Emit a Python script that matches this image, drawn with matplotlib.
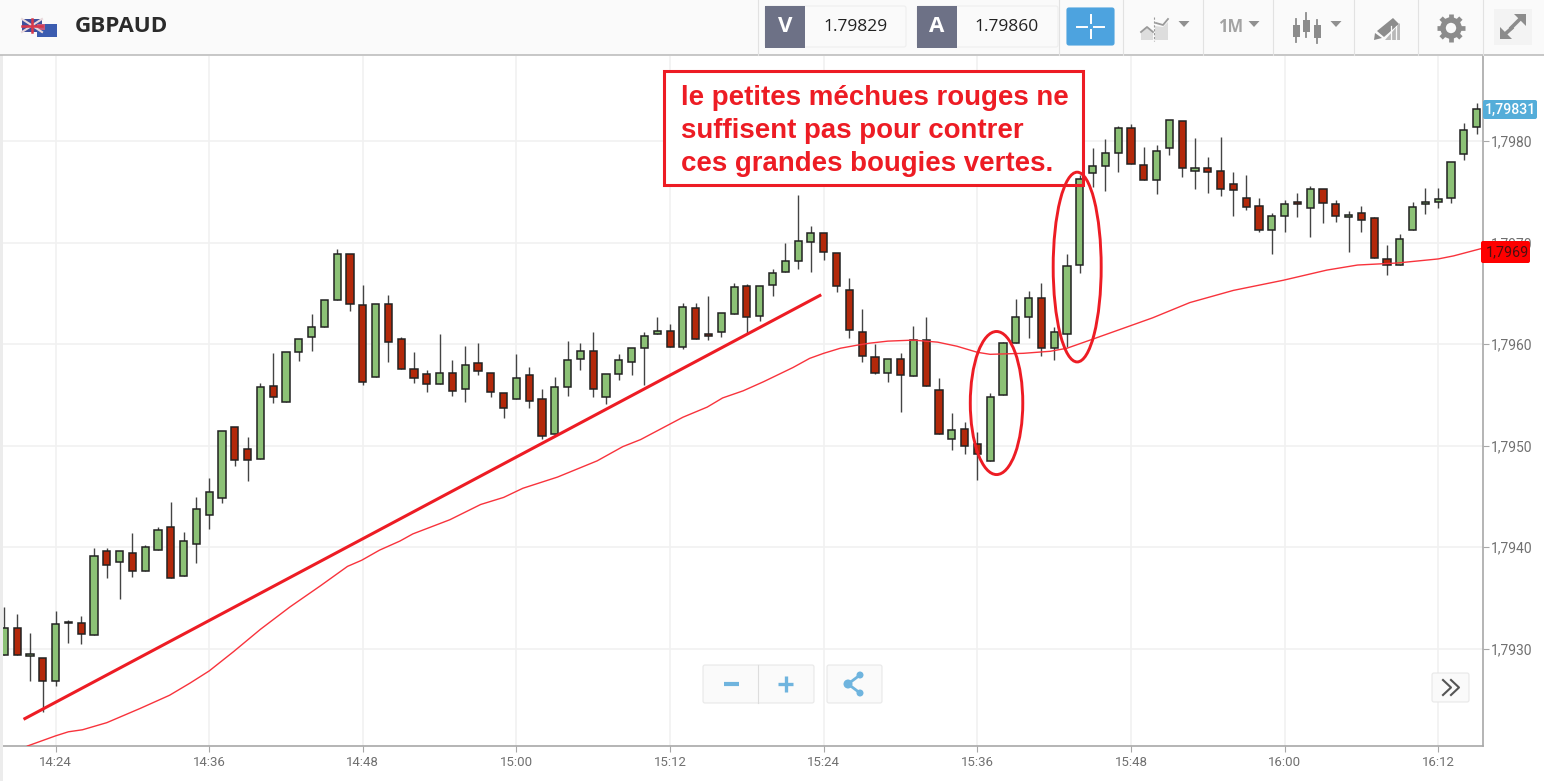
import numpy as np
import matplotlib
matplotlib.use("Agg")
import matplotlib.pyplot as plt
from matplotlib.patches import Ellipse, FancyBboxPatch, Polygon, Rectangle, Circle

# candles, one per minute from 14:20, prices given as 1.79 + value / 100000
opens = [294, 320, 293, 291, 268, 325, 325, 313, 396, 385, 394, 376, 397, 420, 372, 403, 432, 448, 518, 497,
         487, 559, 543, 592, 607, 617, 644, 689, 639, 568, 640, 605, 576, 571, 561, 572, 556, 581, 572, 552,
         546, 570, 546, 511, 558, 585, 593, 548, 571, 582, 596, 610, 613, 597, 636, 610, 612, 630, 657, 628,
         658, 671, 682, 701, 710, 690, 653, 612, 587, 572, 585, 569, 604, 555, 507, 516, 502, 485, 550, 601,
         627, 646, 596, 610, 678, 769, 776, 788, 813, 777, 762, 793, 820, 771, 774, 771, 758, 744, 736, 713,
         726, 740, 734, 753, 738, 725, 729, 724, 684, 678, 713, 738, 740, 744, 787, 814]
closes = [320, 294, 295, 268, 324, 326, 314, 391, 382, 396, 376, 400, 417, 370, 406, 438, 454, 514, 486, 486,
          558, 548, 592, 605, 617, 644, 689, 640, 563, 640, 602, 576, 567, 561, 572, 554, 579, 574, 553, 537,
          567, 544, 510, 558, 584, 593, 556, 571, 584, 596, 608, 613, 597, 637, 605, 608, 631, 656, 627, 657,
          670, 682, 702, 710, 691, 657, 614, 588, 572, 585, 570, 604, 559, 511, 515, 500, 492, 548, 601, 627,
          646, 596, 612, 677, 763, 776, 788, 813, 778, 762, 790, 821, 774, 774, 770, 753, 752, 735, 713, 726,
          738, 738, 753, 739, 726, 727, 722, 685, 678, 704, 735, 740, 743, 780, 811, 832]
highs = [341, 334, 315, 291, 337, 328, 332, 399, 399, 396, 414, 402, 420, 444, 415, 449, 468, 514, 518, 509,
         562, 591, 592, 605, 630, 644, 694, 689, 658, 640, 648, 607, 592, 575, 610, 584, 598, 601, 572, 552,
         590, 578, 556, 568, 603, 601, 612, 571, 590, 596, 612, 627, 620, 641, 641, 647, 631, 660, 659, 657,
         674, 700, 747, 716, 710, 690, 665, 635, 600, 585, 591, 618, 627, 567, 532, 523, 513, 552, 602, 645,
         652, 660, 617, 689, 767, 793, 802, 815, 817, 794, 796, 821, 820, 803, 784, 804, 770, 767, 744, 729,
         742, 749, 756, 753, 742, 731, 736, 725, 698, 709, 740, 754, 754, 780, 818, 838]
lows = [294, 294, 268, 238, 263, 306, 305, 313, 370, 349, 371, 376, 397, 370, 372, 384, 418, 443, 480, 465,
        487, 542, 543, 583, 593, 617, 644, 633, 560, 568, 582, 576, 562, 553, 561, 549, 543, 570, 548, 527,
        546, 537, 507, 511, 549, 575, 548, 541, 565, 570, 560, 610, 597, 595, 605, 604, 607, 630, 610, 623,
        647, 671, 674, 671, 683, 651, 606, 582, 571, 563, 533, 569, 559, 511, 496, 492, 466, 485, 550, 601,
        606, 588, 584, 597, 670, 755, 751, 770, 778, 762, 748, 786, 765, 753, 749, 746, 726, 732, 711, 689,
        711, 725, 706, 719, 720, 691, 711, 685, 668, 678, 713, 728, 734, 739, 782, 807]

# red moving average
ma_minutes = [1.8, 4.0, 5.0, 6.1, 8.0, 10.6, 12.9, 14.5, 16.0, 17.9, 20.0, 22.3, 24.7, 26.8, 27.9, 29.3, 30.9,
              31.9, 34.8, 37.2, 39.0, 40.5, 43.2, 46.3, 48.3, 49.7, 51.2, 53.0, 54.9, 56.1, 57.7, 59.3, 61.6,
              62.9, 64.0, 65.3, 66.6, 67.6, 69.0, 71.0, 72.9, 74.4, 76.0, 77.0, 79.6, 81.7, 83.0, 84.8, 87.7,
              89.7, 92.6, 96.0, 99.9, 103.3, 105.7, 108.8, 112.0, 113.2, 115.3]
ma_values = [204, 214, 218, 220, 227, 241, 254, 266, 278, 297, 319, 341, 362, 381, 387, 397, 406,
             413, 427, 442, 449, 458, 469, 485, 499, 506, 516, 528, 538, 547, 554, 563, 577,
             586, 591, 596, 599, 601, 603, 604, 602, 598, 592, 590, 591, 593, 596, 604, 617,
             626, 641, 653, 663, 673, 678, 680, 684, 687, 694]

# hand drawn trend line and circles
trend_minutes = [1.6, 63.7]
trend_values = [231, 648]
circle_minutes = [77.5, 83.8]
circle_values = [542, 676]

x_ticks = [4, 16, 28, 40, 52, 64, 76, 88, 100, 112]
x_labels = ["14:24", "14:36", "14:48", "15:00", "15:12", "15:24", "15:36", "15:48", "16:00", "16:12"]
y_ticks = [1.7930, 1.7940, 1.7950, 1.7960, 1.7970, 1.7980]

GREEN = "#8cc176"
RED = "#b3280a"
MARK = "#ed1c24"
ICON = "#a3a3a3"
UI_FONT = ["Open Sans", "DejaVu Sans"]
W, H = 1544, 781


def price(values):
    return 1.79 + np.array(values) / 100000


def draw_candles(ax):
    minutes = np.arange(len(opens))
    o, c = price(opens), price(closes)
    colors = [GREEN if up else RED for up in c >= o]
    ax.vlines(minutes, price(lows), price(highs), color="#444444", lw=1.0, zorder=3)
    ax.bar(minutes, np.abs(c - o), bottom=np.minimum(o, c), width=0.56, color=colors,
           edgecolor="#222222", lw=1.1, zorder=4)


def button(ui, x0, y0, x1, y1, color="#fafafa", edge="#e8e8e8"):
    ui.add_patch(FancyBboxPatch((x0 + 2, y0 + 2), x1 - x0 - 4, y1 - y0 - 4, boxstyle="round,pad=2",
                                fc=color, ec=edge, lw=0.8))


def triangle(ui, x, y):
    ui.add_patch(Polygon([(x - 5.5, y - 3), (x + 5.5, y - 3), (x, y + 3)], fc="#909090", ec="none"))


def draw_toolbar(ui):
    ui.add_patch(Rectangle((0, 0), W, 55, fc="#fafafa", ec="none"))
    ui.plot([0, W], [55, 55], color="#bdbdbd", lw=1.2)
    ui.add_patch(Rectangle((0, 55), 3, H - 55, fc="#ececec", ec="none"))

    # pair flags
    ui.add_patch(Rectangle((22, 19), 20, 13, fc="#3f4f9c", ec="none"))
    ui.plot([22, 42], [19, 32], color="#e8d8dc", lw=1.5)
    ui.plot([22, 42], [32, 19], color="#e8d8dc", lw=1.5)
    ui.plot([32, 32], [19, 32], color="#d8384a", lw=1.8)
    ui.plot([22, 42], [25.5, 25.5], color="#d8384a", lw=1.8)
    ui.add_patch(Rectangle((37, 24), 20, 13, fc="#3b5cb0", ec="none"))
    ui.add_patch(Rectangle((37, 24), 8, 6, fc="#c05a80", ec="none"))
    ui.text(75, 27, "GBPAUD", family=UI_FONT, fontsize=16.2, weight="bold", color="#2b2b2b", va="center")

    # bid and ask boxes
    for x0, letter, quote in [(765, "V", "1.79829"), (917, "A", "1.79860")]:
        button(ui, x0, 6, x0 + 141, 47, color="#fafafa", edge="#eeeeee")
        ui.add_patch(Rectangle((x0, 6), 40, 42, fc="#6d7186", ec="none"))
        ui.text(x0 + 20, 27, letter, family=UI_FONT, fontsize=16, weight="bold", color="white",
                ha="center", va="center")
        ui.text(x0 + 90, 27, quote, family=UI_FONT, fontsize=12.5, color="#222222", ha="center", va="center")

    # crosshair button
    button(ui, 1067, 8, 1114, 45, color="#4da3df", edge="#4da3df")
    for x in [(1077, 1087), (1094, 1104)]:
        ui.plot(x, [26.5, 26.5], color="white", lw=1.4)
    for y in [(15, 23), (30, 38)]:
        ui.plot([1090.5, 1090.5], y, color="white", lw=1.4)

    for x in [758, 1059, 1123, 1203, 1273, 1354, 1418, 1483]:
        ui.plot([x, x], [0, 55], color="#e2e2e2", lw=0.8)

    # chart type icon
    ui.add_patch(Polygon([(1141, 40), (1141, 32), (1147, 27), (1153, 32), (1153, 40)], fc="#dddddd", ec="none"))
    ui.add_patch(Polygon([(1155, 40), (1155, 26), (1163, 27), (1168, 22), (1168, 40)], fc="#dddddd", ec="none"))
    ui.plot([1141, 1147, 1153], [32, 27, 32], color="#9a9a9a", lw=1.3)
    ui.plot([1156, 1163, 1168], [23, 25, 19], color="#9a9a9a", lw=1.3)
    ui.plot([1153.5, 1153.5], [17, 41], color="#9a9a9a", lw=0.8, ls=(0, (2, 1.5)))
    triangle(ui, 1184, 24)

    ui.text(1231, 27, "1M", family=UI_FONT, fontsize=12, weight="bold", color=ICON, ha="center", va="center")
    triangle(ui, 1254, 24)

    # candle icon
    for x, y0, y1, y2, y3 in [(1296, 19, 25, 37, 42), (1306, 13, 20, 32, 37), (1317, 20, 25, 38, 43)]:
        ui.plot([x, x], [y0, y3], color="#8c8c8c", lw=1.3)
        ui.add_patch(Rectangle((x - 3.5, y1), 7, y2 - y1, fc="#8c8c8c", ec="none"))
    triangle(ui, 1336, 24)

    # draw tool icon
    ui.add_patch(Polygon([(1385, 40), (1400, 40), (1400, 23)], fc="#b8b8b8", ec="none"))
    for x in [1391, 1396]:
        ui.plot([x, x], [26, 41], color="#fafafa", lw=0.9)
    ui.add_patch(Polygon([(1377, 31), (1393, 18), (1399, 24), (1384, 37)], fc="#8c8c8c", ec="none"))
    ui.add_patch(Polygon([(1375, 33), (1382, 38), (1374, 40)], fc="#8c8c8c", ec="none"))

    # gear
    for a in np.arange(0, 2 * np.pi, np.pi / 4):
        ui.plot([1451 + 8 * np.cos(a), 1451 + 14 * np.cos(a)], [28 + 8 * np.sin(a), 28 + 14 * np.sin(a)],
                color="#8c8c8c", lw=3.4, solid_capstyle="butt")
    ui.add_patch(Circle((1451, 28), 8, fc="#fafafa", ec="#8c8c8c", lw=4))

    # expand arrows
    ui.add_patch(Rectangle((1494, 9), 38, 36, fc="#f3f3f3", ec="none"))
    ui.plot([1510, 1520], [29, 19], color="#8c8c8c", lw=2.6, solid_capstyle="butt")
    ui.plot([1504, 1513], [35, 27], color="#8c8c8c", lw=2.6, solid_capstyle="butt")
    ui.add_patch(Polygon([(1514, 14), (1526, 14), (1526, 26)], fc="#8c8c8c", ec="none"))
    ui.add_patch(Polygon([(1500, 27), (1500, 39), (1512, 39)], fc="#8c8c8c", ec="none"))


def draw_buttons(ui):
    blue = "#6fb4de"
    button(ui, 703, 665, 814, 703)
    ui.plot([757.5, 757.5], [665, 703], color="#dddddd", lw=0.8)
    ui.plot([724, 739], [684, 684], color=blue, lw=3, solid_capstyle="butt")
    ui.plot([778, 793], [684, 684], color=blue, lw=2.4, solid_capstyle="butt")
    ui.plot([785.5, 785.5], [676, 692], color=blue, lw=2.4, solid_capstyle="butt")

    button(ui, 827, 665, 882, 703)
    ui.plot([860, 848, 860], [675, 684, 693], color=blue, lw=2)
    for x, y, r in [(860, 675, 3.5), (848, 684, 4.5), (860, 693, 3.5)]:
        ui.add_patch(Circle((x, y), r, fc=blue, ec="none"))

    button(ui, 1432, 673, 1469, 702)
    ui.plot([1443, 1451, 1443], [680, 687.5, 695], color="#555555", lw=1.5)
    ui.plot([1451, 1459, 1451], [680, 687.5, 695], color="#555555", lw=1.5)


fig = plt.figure(figsize=(W / 100, H / 100), dpi=100, facecolor="white")
ax = fig.add_axes([0, 1 - 746 / H, 1483 / W, 690 / H])
ax.set_xlim(-0.344, 115.5)
ax.set_ylim(1.79204, 1.79884)
ax.grid(color="#f1f1f1", lw=1.2, zorder=0)
ax.set_axisbelow(True)
for side in ["top", "left"]:
    ax.spines[side].set_visible(False)
for side in ["right", "bottom"]:
    ax.spines[side].set_color("#a8a8a8")
    ax.spines[side].set_linewidth(1.2)

ax.set_xticks(x_ticks, x_labels)
ax.yaxis.tick_right()
ax.set_yticks(y_ticks, [("%.4f" % v).replace(".", ",") for v in y_ticks])
ax.tick_params(axis="both", colors="#a8a8a8", length=4, width=0.8, labelcolor="#707070")
ax.tick_params(axis="x", labelsize=9.5, pad=3)
ax.tick_params(axis="y", labelsize=10, pad=1.5)
for label in ax.get_xticklabels() + ax.get_yticklabels():
    label.set_family(["Roboto", "DejaVu Sans"])

draw_candles(ax)
ax.plot(ma_minutes, price(ma_values), color="#f8333c", lw=1.0, zorder=5)
ax.plot(trend_minutes, price(trend_values), color=MARK, lw=2.2, zorder=6)
ax.add_patch(Ellipse((circle_minutes[0], price(circle_values[0])), 4.1, 0.00141, fc="none", ec=MARK, lw=2.1, zorder=6))
ax.add_patch(Ellipse((circle_minutes[1], price(circle_values[1])), 3.75, 0.00187, fc="none", ec=MARK, lw=2.1, zorder=6))

# pixel space layer for the platform interface
ui = fig.add_axes([0, 0, 1, 1], zorder=10)
ui.set_xlim(0, W)
ui.set_ylim(H, 0)
ui.axis("off")
ui.patch.set_alpha(0)
draw_toolbar(ui)
draw_buttons(ui)

# note box, the white fill sits under the candles so the tall one still shows through its corner
ax.add_patch(Rectangle((664, 71), 419, 114, fc="white", ec="none", transform=ui.transData, zorder=2))
ui.add_patch(Rectangle((664, 71), 419, 114, fc="none", ec=MARK, lw=2.2))
for y, line in [(98, "le petites méchues rouges ne"), (131, "suffisent pas pour contrer"),
                (164, "ces grandes bougies vertes.")]:
    ui.text(681, y, line, family=["Liberation Sans", "DejaVu Sans"], fontsize=19.9, weight="bold", color=MARK, va="center")

# price tags
ui.add_patch(FancyBboxPatch((1485, 102), 50, 15, boxstyle="round,pad=2", fc="#54add9", ec="none"))
ui.text(1510.5, 109.5, "1,79831", family=["Roboto", "DejaVu Sans"], fontsize=10.2, weight="medium", color="white",
        ha="center", va="center")
ui.add_patch(FancyBboxPatch((1483, 243), 45, 18, boxstyle="round,pad=2", fc="#fe0000", ec="none"))
ui.text(1507, 252.5, "1,7969", family=["Roboto", "DejaVu Sans"], fontsize=10.3, color="#4a1010", ha="center", va="center")

fig.savefig("out.png", dpi=100)
